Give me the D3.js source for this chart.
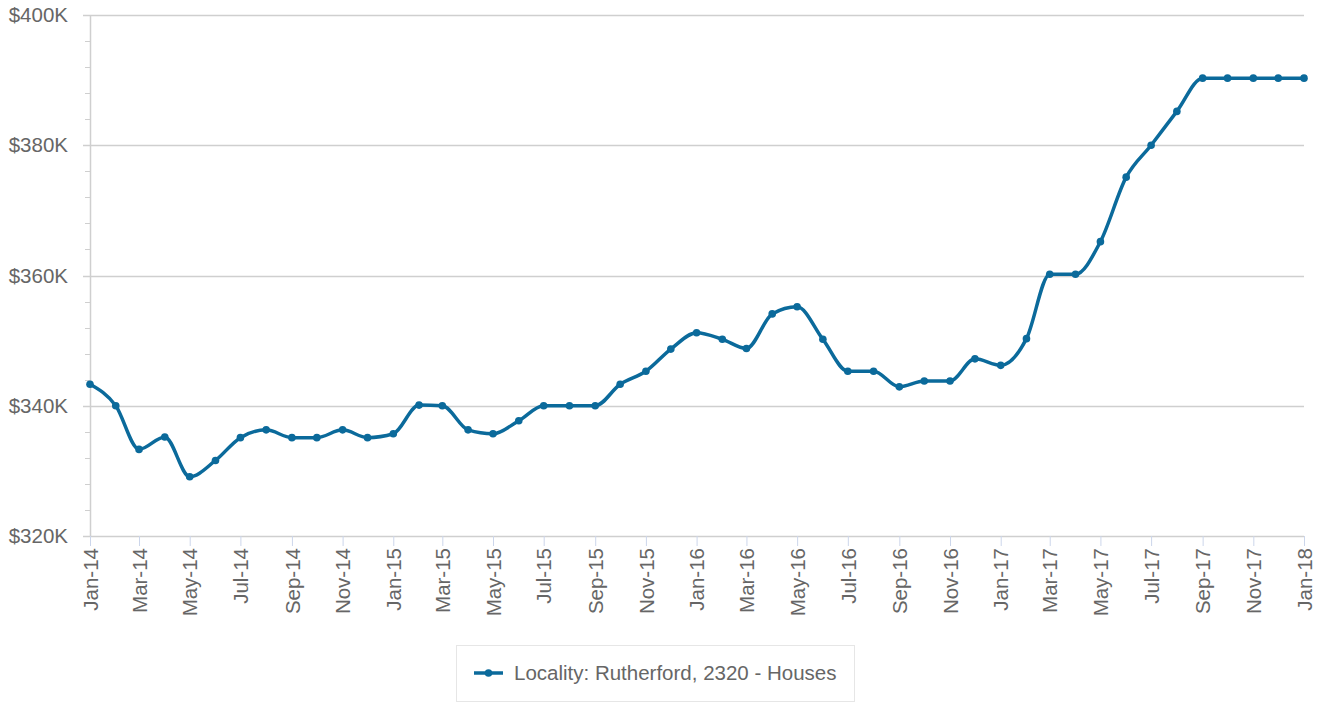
<!DOCTYPE html>
<html>
<head>
<meta charset="utf-8">
<script src="https://cdn.jsdelivr.net/npm/d3@7"></script>
<style>
  html, body { margin: 0; padding: 0; background: #fff; }
  svg { display: block; font-family: "Liberation Sans", Arial, sans-serif; }
</style>
</head>
<body>
<svg id="chart" width="1318" height="703"></svg>
<script>
// ---- data ----
const months = [
  "2014-01","2014-02","2014-03","2014-04","2014-05","2014-06","2014-07","2014-08","2014-09","2014-10","2014-11","2014-12",
  "2015-01","2015-02","2015-03","2015-04","2015-05","2015-06","2015-07","2015-08","2015-09","2015-10","2015-11","2015-12",
  "2016-01","2016-02","2016-03","2016-04","2016-05","2016-06","2016-07","2016-08","2016-09","2016-10","2016-11","2016-12",
  "2017-01","2017-02","2017-03","2017-04","2017-05","2017-06","2017-07","2017-08","2017-09","2017-10","2017-11","2017-12",
  "2018-01"
];
const values = [
  343300, 340000, 333300, 335200, 329100, 331600, 335100, 336300, 335100, 335100, 336300, 335100,
  335700, 340100, 340000, 336300, 335700, 337700, 340000, 340000, 340000, 343300, 345300, 348700,
  351200, 350200, 348800, 354100, 355200, 350200, 345300, 345300, 342900, 343800, 343800, 347200,
  346200, 350300, 360200, 360200, 365200, 375100, 380000, 385200, 390300, 390300, 390300, 390300,
  390300
];
const yTicks = [320000, 340000, 360000, 380000, 400000];
const seriesName = "Locality: Rutherford, 2320 - Houses";

(function () {
// ---- layout ----
const svg = d3.select("#chart");
const pLeft = 90, pRight = 1304, pTop = 15, pBottom = 536;
const parse = d3.timeParse("%Y-%m");
const data = months.map((m, i) => ({ date: parse(m), value: values[i] }));

const x = d3.scaleTime()
  .domain([data[0].date, data[data.length - 1].date])
  .range([pLeft, pRight]);
const y = d3.scaleLinear().domain([320000, 400000]).range([pBottom, pTop]);

const lineColor = "#0b6a9b";
const gridColor = "#cfcfcf";
const textColor = "#666666";
const fontSize = 20.5;

// minor ticks on y axis (every 4K)
const minorTicks = d3.range(320000, 400001, 4000).filter(v => yTicks.indexOf(v) < 0);
svg.append("g").selectAll("line").data(minorTicks).join("line")
  .attr("x1", pLeft - 5).attr("x2", pLeft)
  .attr("y1", d => Math.round(y(d)) + 0.5).attr("y2", d => Math.round(y(d)) + 0.5)
  .attr("stroke", gridColor).attr("stroke-width", 1);

// major grid lines
svg.append("g").selectAll("line").data(yTicks).join("line")
  .attr("x1", pLeft - 7).attr("x2", pRight)
  .attr("y1", d => Math.round(y(d)) + 0.5).attr("y2", d => Math.round(y(d)) + 0.5)
  .attr("stroke", gridColor).attr("stroke-width", 1.5);

// y axis line
svg.append("line")
  .attr("x1", pLeft + 0.5).attr("x2", pLeft + 0.5)
  .attr("y1", pTop).attr("y2", pBottom)
  .attr("stroke", gridColor).attr("stroke-width", 1.5);

// y labels
svg.append("g").selectAll("text").data(yTicks).join("text")
  .attr("x", 68).attr("y", d => y(d) + 7)
  .attr("text-anchor", "end")
  .attr("fill", textColor).attr("font-size", fontSize)
  .text(d => "$" + d3.format("d")(d / 1000) + "K");

// x axis ticks & labels
const xTickDates = data.filter((d, i) => i % 2 === 0).map(d => d.date);
const xAxis = d3.axisBottom(x)
  .tickValues(xTickDates)
  .tickFormat(d3.timeFormat("%b-%y"))
  .tickSize(10)
  .tickPadding(0);
const gx = svg.append("g").attr("transform", `translate(0,${pBottom})`).call(xAxis);
gx.select(".domain").remove();
gx.selectAll(".tick line").attr("stroke", "#ccd6eb").attr("stroke-width", 1);
gx.selectAll(".tick text")
  .attr("fill", textColor).attr("font-size", fontSize)
  .attr("font-family", "Liberation Sans, Arial, sans-serif")
  .attr("text-anchor", "end")
  .attr("transform", "rotate(-90)")
  .attr("x", -12).attr("y", 0).attr("dy", "0.35em");

// line
const line = d3.line()
  .x(d => x(d.date)).y(d => y(d.value))
  .curve(d3.curveMonotoneX);
svg.append("path").datum(data)
  .attr("d", line)
  .attr("fill", "none").attr("stroke", lineColor)
  .attr("stroke-width", 3.5).attr("stroke-linejoin", "round");

svg.append("g").selectAll("circle").data(data).join("circle")
  .attr("cx", d => x(d.date)).attr("cy", d => y(d.value))
  .attr("r", 3.8).attr("fill", lineColor);

// legend
const lg = svg.append("g");
lg.append("rect")
  .attr("x", 456.5).attr("y", 645.5).attr("width", 398).attr("height", 56)
  .attr("fill", "#fff").attr("stroke", "#e6e6e6").attr("stroke-width", 1);
lg.append("line")
  .attr("x1", 474).attr("x2", 503).attr("y1", 673).attr("y2", 673)
  .attr("stroke", lineColor).attr("stroke-width", 3.5);
lg.append("circle").attr("cx", 488.5).attr("cy", 673).attr("r", 3.8).attr("fill", lineColor);
lg.append("text")
  .attr("x", 514).attr("y", 680)
  .attr("fill", textColor).attr("font-size", fontSize)
  .text(seriesName);
})();
</script>
</body>
</html>
